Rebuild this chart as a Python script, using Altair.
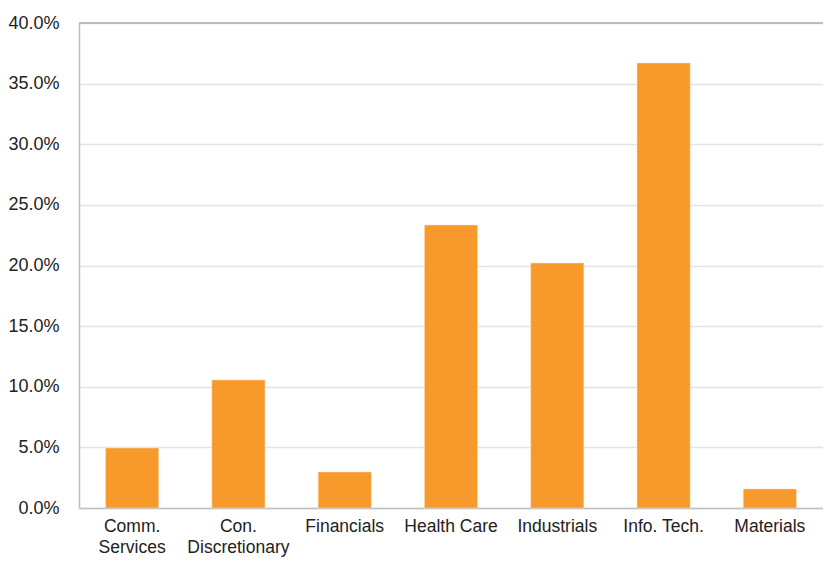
import altair as alt
import pandas as pd

categories = ["Comm. Services", "Con. Discretionary", "Financials", "Health Care",
              "Industrials", "Info. Tech.", "Materials"]
weights = [0.0495, 0.1056, 0.0297, 0.2334, 0.2020, 0.3670, 0.0157]
y_ticks = [0, 0.05, 0.10, 0.15, 0.20, 0.25, 0.30, 0.35, 0.40]

df = pd.DataFrame({"sector": categories, "weight": weights})
top_df = pd.DataFrame({"y": [0.40]})

FONT = "Liberation Sans"

label_expr = ("datum.value == 'Comm. Services' ? ['Comm.', 'Services'] : "
              "datum.value == 'Con. Discretionary' ? ['Con.', 'Discretionary'] : datum.label")

bars = alt.Chart(df).mark_bar(color="#F7992B", stroke="#FCE3C4", strokeWidth=0.5).encode(
    x=alt.X("sector:N", sort=categories, title=None,
            scale=alt.Scale(paddingInner=0.5, paddingOuter=0.25),
            axis=alt.Axis(labelAngle=0, ticks=False, domainColor="#BFBFBF", domainWidth=1.5,
                          labelExpr=label_expr, labelPadding=9, labelLineHeight=21,
                          labelFontSize=17.5, labelColor="#222222", labelFont=FONT, grid=False)),
    y=alt.Y("weight:Q", title=None,
            scale=alt.Scale(domain=[0, 0.40], nice=False),
            axis=alt.Axis(values=y_ticks, format=".1%", ticks=False, domainColor="#BFBFBF",
                          domainWidth=1.5, gridColor="#E4E4E4", gridWidth=1.5,
                          labelPadding=20, labelFontSize=18, labelColor="#222222",
                          labelFont=FONT)),
)

top_rule = alt.Chart(top_df).mark_rule(color="#ADADAD", strokeWidth=1.5).encode(y="y:Q")

chart = alt.layer(top_rule, bars).properties(
    width=744, height=485,
    autosize=alt.AutoSizeParams(type="none"),
    padding={"left": 71, "top": 15, "right": 0, "bottom": 52},
).configure_view(stroke=None).configure(background="white")

chart.save("out.html", embed_options={"renderer": "svg", "actions": False})
